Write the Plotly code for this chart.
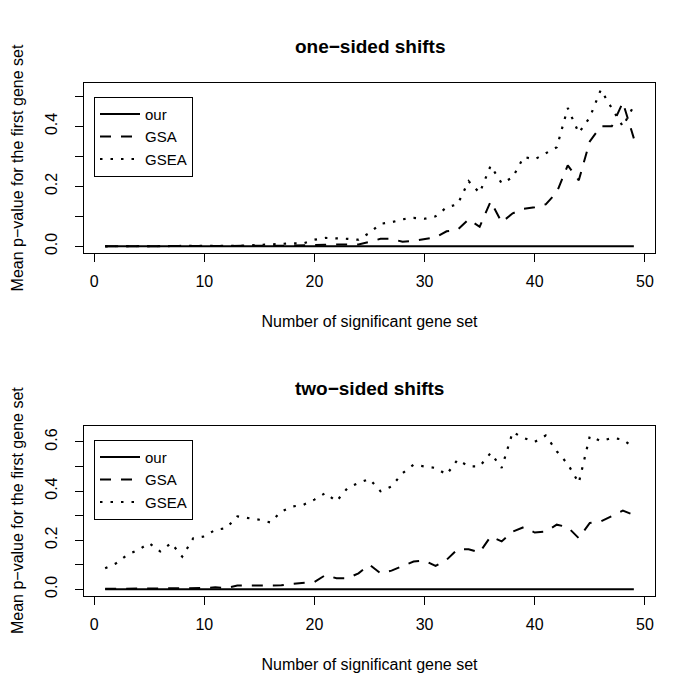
import plotly.graph_objects as go

x = list(range(1, 50))

# one-sided shifts
top_our = [0.0] * 49
top_gsa = [0.0, 0.0, 0.0, 0.0, 0.0, 0.0, 0.0, 0.0, 0.0, 0.0,
           0.0, 0.0, 0.0, 0.001, 0.001, 0.002, 0.002, 0.003, 0.003, 0.004,
           0.005, 0.006, 0.005, 0.006, 0.015, 0.025, 0.025, 0.015, 0.018, 0.024,
           0.03, 0.05, 0.055, 0.09, 0.065, 0.15, 0.08, 0.11, 0.125, 0.13,
           0.14, 0.18, 0.27, 0.22, 0.35, 0.40, 0.40, 0.48, 0.36]
top_gsea = [0.0, 0.0, 0.0, 0.0, 0.0, 0.0, 0.0, 0.0, 0.001, 0.001,
            0.001, 0.002, 0.002, 0.003, 0.005, 0.006, 0.008, 0.01, 0.01, 0.022,
            0.028, 0.027, 0.025, 0.022, 0.045, 0.075, 0.08, 0.09, 0.095, 0.092,
            0.10, 0.13, 0.14, 0.217, 0.178, 0.269, 0.21, 0.23, 0.298, 0.29,
            0.31, 0.33, 0.461, 0.378, 0.43, 0.522, 0.46, 0.40, 0.469]

# two-sided shifts
bot_our = [0.0] * 49
bot_gsa = [0.002, 0.002, 0.003, 0.003, 0.004, 0.004, 0.004, 0.003, 0.004, 0.005,
           0.008, 0.005, 0.015, 0.015, 0.015, 0.015, 0.016, 0.022, 0.025, 0.03,
           0.058, 0.045, 0.045, 0.065, 0.10, 0.065, 0.076, 0.093, 0.113, 0.117,
           0.095, 0.12, 0.163, 0.163, 0.15, 0.215, 0.195, 0.235, 0.253, 0.231,
           0.235, 0.263, 0.253, 0.208, 0.27, 0.276, 0.297, 0.32, 0.303]
bot_gsea = [0.086, 0.106, 0.14, 0.16, 0.188, 0.154, 0.188, 0.133, 0.208, 0.215,
            0.242, 0.249, 0.297, 0.29, 0.283, 0.272, 0.317, 0.337, 0.344, 0.365,
            0.392, 0.358, 0.412, 0.433, 0.449, 0.399, 0.419, 0.473, 0.507, 0.50,
            0.494, 0.467, 0.528, 0.50, 0.50, 0.555, 0.494, 0.64, 0.616, 0.60,
            0.626, 0.562, 0.51, 0.433, 0.623, 0.603, 0.616, 0.61, 0.576]

series_names = ["our", "GSA", "GSEA"]
top_ticks = [0, 0.1, 0.2, 0.3, 0.4, 0.5]
top_ticktext = ["0.0", "", "0.2", "", "0.4", ""]
bot_ticks = [0, 0.1, 0.2, 0.3, 0.4, 0.5, 0.6]
bot_ticktext = ["0.0", "", "0.2", "", "0.4", "", "0.6"]
x_ticks = [0, 10, 20, 30, 40, 50]

W = H = 685
FONT = "Liberation Sans, Arial, Helvetica, sans-serif"

def rrange(vals):
    lo, hi = min(vals), max(vals)
    d = (hi - lo) * 0.04
    return [lo - d, hi + d]

styles = [dict(color="black", width=2, dash="solid"),
          dict(color="black", width=2, dash="11px,10px"),
          dict(color="black", width=2.2, dash="2.5px,8px")]

fig = go.Figure()
for i, (ys, nm) in enumerate(zip([top_our, top_gsa, top_gsea], series_names)):
    fig.add_trace(go.Scatter(x=x, y=ys, mode="lines", name=nm, line=styles[i],
                             xaxis="x", yaxis="y", legend="legend"))
for i, (ys, nm) in enumerate(zip([bot_our, bot_gsa, bot_gsea], series_names)):
    fig.add_trace(go.Scatter(x=x, y=ys, mode="lines", name=nm, line=styles[i],
                             xaxis="x2", yaxis="y2", legend="legend2"))

px_x = lambda p: p / W
px_y = lambda p: 1 - p / H

xdom = [px_x(76), px_x(647)]
common_x = dict(domain=xdom, range=rrange(x), tickvals=x_ticks, ticks="outside", ticklen=8,
                tickcolor="black", showline=True, linecolor="black", linewidth=1, mirror=True,
                showgrid=False, zeroline=False, ticklabelstandoff=6,
                tickfont=dict(size=16, color="black", family=FONT),
                title=dict(text="Number of significant gene set", standoff=27,
                           font=dict(size=16, color="black", family=FONT)))
common_y = dict(ticks="outside", ticklen=8, tickcolor="black", showline=True, linecolor="black",
                linewidth=1, mirror=True, showgrid=False, zeroline=False, tickangle=-90,
                ticklabelstandoff=12,
                tickfont=dict(size=16, color="black", family=FONT),
                title=dict(text="Mean p\u2212value for the first gene set", standoff=14,
                           font=dict(size=16, color="black", family=FONT)))

legend_common = dict(xanchor="left", yanchor="top", bordercolor="black", borderwidth=1,
                     bgcolor="white", font=dict(size=15, family=FONT, color="black"),
                     itemwidth=40, tracegroupgap=0)

fig.update_layout(
    width=W, height=H, margin=dict(l=0, r=0, t=0, b=0),
    paper_bgcolor="white", plot_bgcolor="white",
    font=dict(family=FONT, color="black", size=16),
    xaxis=dict(common_x, anchor="y"),
    yaxis=dict(common_y, domain=[px_y(245.3), px_y(75.7)], anchor="x",
               range=rrange(top_gsa + top_gsea + top_our), tickvals=top_ticks, ticktext=top_ticktext),
    xaxis2=dict(common_x, anchor="y2"),
    yaxis2=dict(common_y, domain=[px_y(589.3), px_y(419)], anchor="x2",
                range=rrange(bot_gsa + bot_gsea + bot_our), tickvals=bot_ticks, ticktext=bot_ticktext),
    legend=dict(legend_common, x=px_x(86), y=px_y(89)),
    legend2=dict(legend_common, x=px_x(86), y=px_y(433)),
    annotations=[
        dict(text="<b>one\u2212sided shifts</b>", x=(xdom[0] + xdom[1]) / 2, y=px_y(39),
             xref="paper", yref="paper", showarrow=False, xanchor="center", yanchor="middle",
             font=dict(size=19, family=FONT, color="black")),
        dict(text="<b>two\u2212sided shifts</b>", x=(xdom[0] + xdom[1]) / 2, y=px_y(382),
             xref="paper", yref="paper", showarrow=False, xanchor="center", yanchor="middle",
             font=dict(size=19, family=FONT, color="black")),
    ],
)

fig.write_html("out.html")
